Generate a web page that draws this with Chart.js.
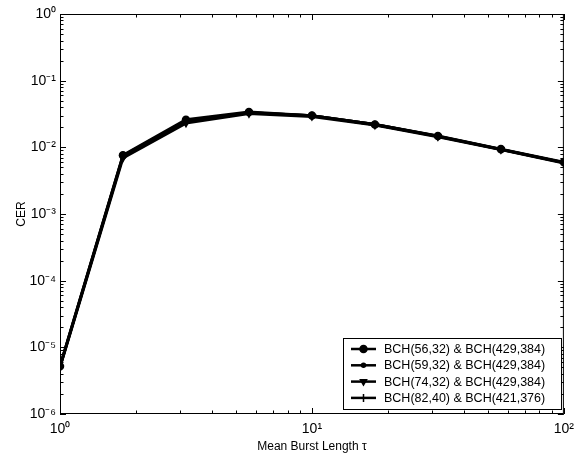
<!DOCTYPE html>
<html>
<head>
<meta charset="utf-8">
<script src="https://cdn.jsdelivr.net/npm/chart.js@4/dist/chart.umd.min.js"></script>
<style>
html,body{margin:0;padding:0;background:#fff;}
#wrap{width:581px;height:460px;position:relative;}
</style>
</head>
<body>
<div id="wrap"><canvas id="c" width="581" height="460"></canvas></div>
<script>
// ---- data ----
const tau = [1, 1.778, 3.162, 5.623, 10, 17.78, 31.62, 56.23, 100];
const cer56 = [5.2e-6, 7.6e-3, 0.026, 0.034, 0.030, 0.022, 0.0148, 0.0094, 0.0060];
const cer59 = [5.1e-6, 7.3e-3, 0.025, 0.033, 0.030, 0.022, 0.0146, 0.0093, 0.0059];
const cer74 = [5.0e-6, 6.9e-3, 0.023, 0.032, 0.029, 0.0215, 0.0144, 0.0092, 0.0058];
const cer82 = [5.2e-6, 7.5e-3, 0.025, 0.033, 0.030, 0.022, 0.0147, 0.0093, 0.0059];
const seriesLabels = ['BCH(56,32) & BCH(429,384)', 'BCH(59,32) & BCH(429,384)', 'BCH(74,32) & BCH(429,384)', 'BCH(82,40) & BCH(421,376)'];
const xTicks = [1, 10, 100];
const yTicks = [1e-6, 1e-5, 1e-4, 1e-3, 1e-2, 1e-1, 1];

const SUP = {'0':'⁰','1':'¹','2':'²','3':'³','4':'⁴','5':'⁵','6':'⁶','7':'⁷','8':'⁸','9':'⁹','-':'⁻'};
function pow10Label(v){
  const e = Math.round(Math.log10(v));
  return '10' + String(e).split('').map(c=>SUP[c]).join('');
}
function pts(ys){ return tau.map((x,i)=>({x:x, y:ys[i]})); }

const styles = [
  {pointStyle:'circle', radius:3.5, rotation:0},
  {pointStyle:'circle', radius:2, rotation:0},
  {pointStyle:'triangle', radius:3.5, rotation:180},
  {pointStyle:'cross', radius:4, rotation:0}
];
const allSeries = [cer56, cer59, cer74, cer82];

const datasets = allSeries.map((ys,i)=>({
  label: seriesLabels[i],
  data: pts(ys),
  borderColor:'#000',
  backgroundColor:'#000',
  borderWidth:2.8,
  pointStyle: styles[i].pointStyle,
  pointRadius: styles[i].radius,
  pointRotation: styles[i].rotation,
  pointBorderWidth: 1.5,
  pointBorderColor:'#000',
  pointBackgroundColor:'#000',
  tension:0,
  fill:false
}));

const FONT = "'Liberation Sans', Arial, Helvetica, sans-serif";

const frame = {
  id:'frame',
  afterDraw(chart){
    const ctx = chart.ctx, a = chart.chartArea;
    const xs = chart.scales.x, ys = chart.scales.y;
    ctx.save();
    ctx.strokeStyle = '#000';
    ctx.lineWidth = 1;
    ctx.strokeRect(a.left+0.5, a.top+0.5, a.right-a.left-1, a.bottom-a.top-1);
    // inside ticks
    ctx.beginPath();
    for (let d=0; d<=2; d++){
      for (let m=1; m<=9; m++){
        const v = Math.pow(10,d)*m;
        if (v>100) break;
        const p = Math.round(xs.getPixelForValue(v))+0.5;
        const L = m===1?6:3.5;
        ctx.moveTo(p,a.bottom); ctx.lineTo(p,a.bottom-L);
        ctx.moveTo(p,a.top); ctx.lineTo(p,a.top+L);
      }
    }
    for (let d=-6; d<=0; d++){
      for (let m=1; m<=9; m++){
        const v = Math.pow(10,d)*m;
        if (v>1) break;
        const p = Math.round(ys.getPixelForValue(v))+0.5;
        const L = m===1?6:3.5;
        ctx.moveTo(a.left,p); ctx.lineTo(a.left+L,p);
        ctx.moveTo(a.right,p); ctx.lineTo(a.right-L,p);
      }
    }
    ctx.stroke();

    // legend box inside
    const bx = 343, by = 338, bw = 218, bh = 71;
    ctx.fillStyle = '#fff';
    ctx.fillRect(bx, by, bw, bh);
    ctx.lineWidth = 1;
    ctx.strokeRect(bx+0.5, by+0.5, bw, bh);
    ctx.font = '12.5px ' + FONT;
    ctx.textBaseline = 'middle';
    ctx.fillStyle = '#000';
    chart.data.datasets.forEach((ds,i)=>{
      const y = by + 11 + i*16.3;
      ctx.beginPath();
      ctx.lineWidth = 2.5;
      ctx.moveTo(bx+8, y); ctx.lineTo(bx+33, y);
      ctx.stroke();
      ctx.lineWidth = 1.5;
      Chart.helpers.drawPoint(ctx, {pointStyle: ds.pointStyle, radius: ds.pointRadius, rotation: ds.pointRotation, borderWidth:1.5}, bx+20.5, y);
      ctx.fillText(ds.label, bx+41, y+0.5);
    });
    ctx.restore();
  }
};

new Chart(document.getElementById('c'), {
  type:'line',
  data:{datasets:datasets},
  plugins:[frame],
  options:{
    responsive:false,
    animation:false,
    devicePixelRatio:1,
    layout:{padding:{left:14, right:14, top:14, bottom:0}},
    plugins:{legend:{display:false}, tooltip:{enabled:false}},
    scales:{
      x:{
        type:'logarithmic', min:1, max:100,
        afterBuildTicks(s){ s.ticks = xTicks.map(v=>({value:v})); },
        afterFit(s){ s.height = 46; },
        grid:{display:false, drawTicks:false},
        border:{display:false},
        ticks:{callback:(v)=>pow10Label(v), color:'#000', font:{family:FONT, size:14}, padding:7, maxRotation:0, autoSkip:false},
        title:{display:true, text:'Mean Burst Length τ', color:'#000', font:{family:FONT, size:12}, padding:{top:0,bottom:6}}
      },
      y:{
        type:'logarithmic', min:1e-6, max:1,
        afterBuildTicks(s){ s.ticks = yTicks.map(v=>({value:v})); },
        afterFit(s){ s.width = 46; },
        grid:{display:false, drawTicks:false},
        border:{display:false},
        ticks:{callback:(v)=>pow10Label(v), color:'#000', font:{family:FONT, size:14}, padding:4, autoSkip:false},
        title:{display:true, text:'CER', color:'#000', font:{family:FONT, size:12}, padding:{top:0,bottom:4}}
      }
    }
  }
});
</script>
</body>
</html>
